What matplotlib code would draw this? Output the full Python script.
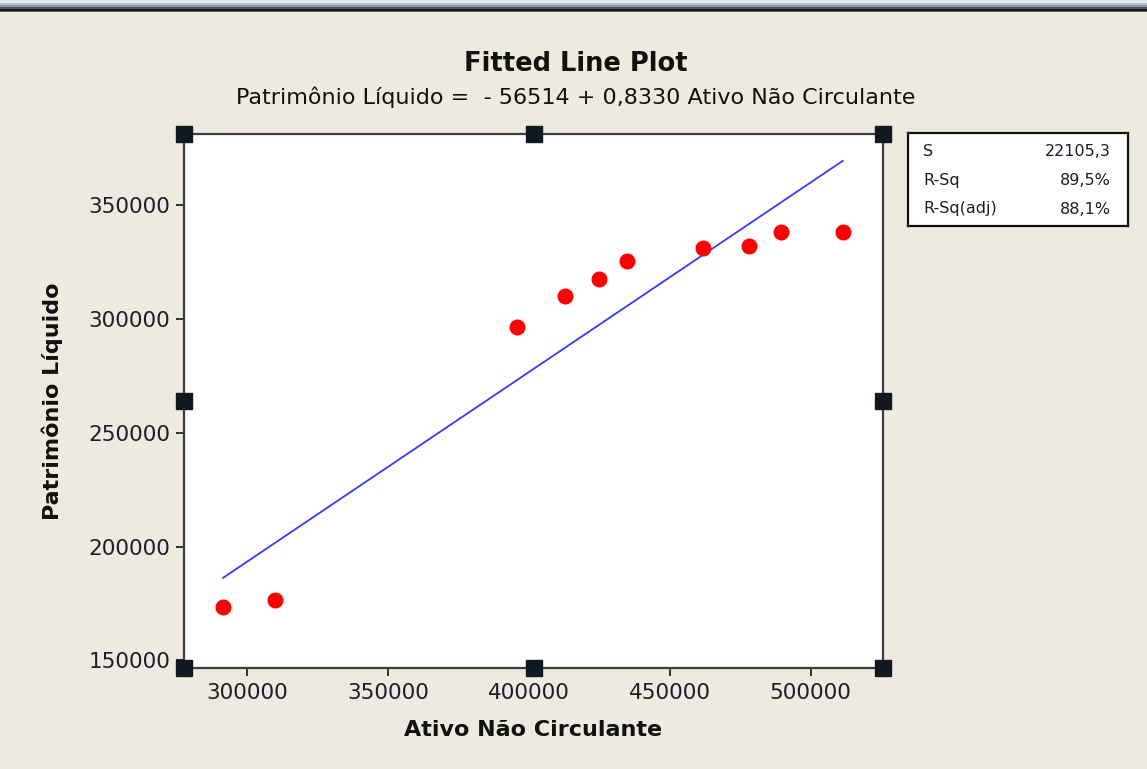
import numpy as np
import matplotlib
matplotlib.use("Agg")
import matplotlib.pyplot as plt
from matplotlib.patches import Rectangle

# data
ativo = [291500, 310000, 395800, 412900, 425000, 434800, 461800, 478000, 489500, 511400]
patrimonio = [173500, 176500, 296700, 310000, 317600, 325700, 331200, 331900, 338300, 338300]

intercept = -56514
slope = 0.8330

x_ticks = [300000, 350000, 400000, 450000, 500000]
y_ticks = [150000, 200000, 250000, 300000, 350000]

stat_names = ["S", "R-Sq", "R-Sq(adj)"]
stat_values = ["22105,3", "89,5%", "88,1%"]

bg = '#eeeae0'
W, H = 1147, 769

fig = plt.figure(figsize=(W / 100, H / 100), dpi=100, facecolor=bg)
plt.rcParams['font.family'] = ['DejaVu Sans']

# window border at the very top
for y0, y1, c in [(0, 3, '#e4e9ef'), (3, 5, '#b0c2d6'), (5, 7, '#8a97a6'),
                  (7, 9, '#50565e'), (9, 11, '#161616'), (11, 12, '#5e5e5e')]:
    fig.patches.append(Rectangle((0, 1 - y1 / H), 1, (y1 - y0) / H,
                                 transform=fig.transFigure, color=c, lw=0))

ax = fig.add_axes([184 / W, 1 - 668 / H, (883 - 184) / W, (668 - 134) / H])
ax.set_facecolor('white')

# fitted line
xl = np.array([min(ativo), max(ativo)])
ax.plot(xl, intercept + slope * xl, color='#3838f8', lw=1.3, zorder=2)
ax.plot(ativo, patrimonio, 'o', color='#ff0000', ms=10.5, mec='#ff0000', zorder=3)

ax.set_xlim(277630, 525670)
ax.set_ylim(146700, 381270)
ax.set_xticks(x_ticks)
ax.set_yticks(y_ticks)
ax.set_xticklabels([str(t) for t in x_ticks])
ax.set_yticklabels([str(t) for t in y_ticks])
ax.tick_params(direction='out', length=6, width=1.4, color='#333333',
               labelsize=15.5, labelcolor='#1c1c2c')
ax.tick_params(axis='x', pad=5)
ax.tick_params(axis='y', pad=4)
for s in ax.spines.values():
    s.set_color('#3c3c3c')
    s.set_linewidth(1.6)

ax.set_xlabel("Ativo Não Circulante", fontsize=16, fontweight='bold',
              color='#111111', labelpad=12)
ax.set_ylabel("Patrimônio Líquido", fontsize=16, fontweight='bold',
              color='#111111', labelpad=18)

fig.text(576 / W, 1 - 64 / H, "Fitted Line Plot", ha='center', va='center',
         fontsize=18.5, fontweight='bold', color='#111111')
fig.text(576 / W, 1 - 97 / H,
         "Patrimônio Líquido =  - 56514 + 0,8330 Ativo Não Circulante",
         ha='center', va='center', fontsize=16, color='#111111')

# selection handles around the graph region
hx = [0, 0.5, 1, 0, 1, 0, 0.5, 1]
hy = [1, 1, 1, 0.5, 0.5, 0, 0, 0]
ax.plot(hx, hy, 's', ms=11, color='#111820', transform=ax.transAxes,
        clip_on=False, zorder=5)

# statistics box
bx = fig.add_axes([908 / W, 1 - 226 / H, (1128 - 908) / W, (226 - 133) / H])
bx.set_xticks([])
bx.set_yticks([])
bx.set_facecolor('white')
for s in bx.spines.values():
    s.set_color('#111111')
    s.set_linewidth(1.6)
for i, (n, v) in enumerate(zip(stat_names, stat_values)):
    yy = 1 - (19 + 28.5 * i) / 93
    bx.text(15 / 220, yy, n, ha='left', va='center', fontsize=11.5,
            color='#1c1c2c', transform=bx.transAxes)
    bx.text(203 / 220, yy, v, ha='right', va='center', fontsize=11.5,
            color='#1c1c2c', transform=bx.transAxes)

fig.savefig("out.png", dpi=100, facecolor=bg)
